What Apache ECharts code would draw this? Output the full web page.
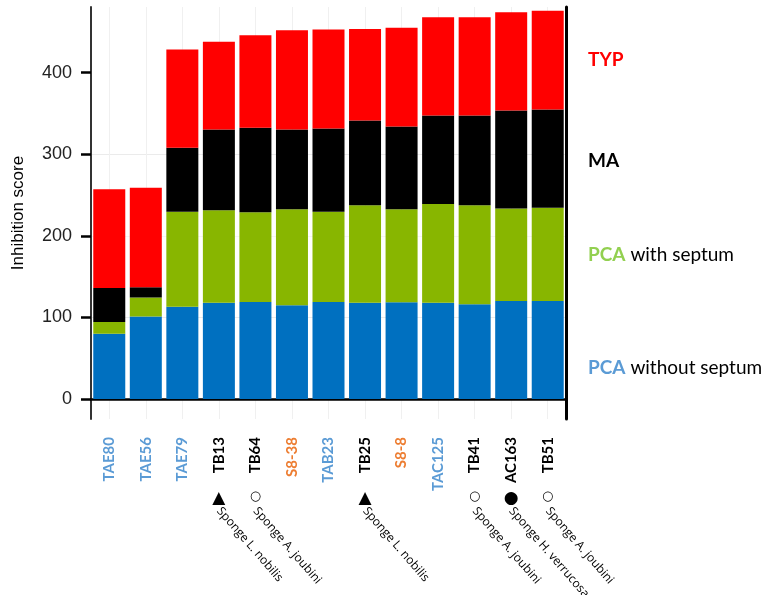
<!DOCTYPE html>
<html>
<head>
<meta charset="utf-8">
<script src="https://cdn.jsdelivr.net/npm/echarts@6/dist/echarts.min.js"></script>
<style>
  html, body { margin: 0; padding: 0; background: #fff; }
  #chart { width: 784px; height: 595px; }
</style>
</head>
<body>
<div id="chart"></div>
<script>
  // strains, left to right
  const categories = ['TAE80', 'TAE56', 'TAE79', 'TB13', 'TB64', 'S8-38', 'TAB23', 'TB25', 'S8-8', 'TAC125', 'TB41', 'AC163', 'TB51'];

  // stacked inhibition score components
  const pcaWithout = [80, 101, 113, 118, 119, 115, 119, 118, 118.5, 118, 116, 120, 120];
  const pcaWith = [14.5, 23.5, 116.5, 113.5, 110, 117.5, 110.5, 119.5, 114, 121, 121.5, 113.5, 114.5];
  const ma = [41.5, 12.5, 78.5, 99, 103.5, 98, 102, 104, 101.5, 108.5, 110, 120, 120.5];
  const typ = [121, 122, 120.5, 107.5, 113.5, 121.5, 121.5, 112, 121, 120.5, 120.5, 120.5, 121];

  // host annotation under some strains
  const hostMarker = ['', '', '', 'tri', 'open', '', '', 'tri', '', '', 'open', 'filled', 'open'];
  const hosts = ['', '', '', 'Sponge L. nobilis', 'Sponge A. joubini', '', '', 'Sponge L. nobilis', '', '', 'Sponge A. joubini', 'Sponge H. verrucosa', 'Sponge A. joubini'];

  const yTicks = [0, 100, 200, 300, 400];

  const labelColor = name => {
    if (name.startsWith('TA')) return '#5b9bd5';
    if (name.startsWith('S8')) return '#ed7d31';
    return '#000';
  };

  const markerGlyph = { tri: '▲', open: '○', filled: '●' };

  const chart = echarts.init(document.getElementById('chart'));

  const stackBar = (name, data, color) => ({
    name,
    type: 'bar',
    stack: 'score',
    barWidth: 32,
    data,
    itemStyle: { color },
    emphasis: { disabled: true }
  });

  const legendText = (top, text, rich) => ({
    type: 'text',
    left: 588,
    top,
    style: {
      text,
      font: '19px Lato',
      fill: '#000',
      rich
    }
  });

  chart.setOption({
    animation: false,
    grid: { left: 91, right: 218, top: 7, bottom: 176, outerBoundsMode: 'none' },
    xAxis: [
      {
        type: 'category',
        position: 'bottom',
        data: categories,
        axisLine: { lineStyle: { color: '#000', width: 2.5 } },
        axisTick: { alignWithLabel: true, length: 8, lineStyle: { color: '#000', width: 2.5 } },
        splitLine: { show: true, alignWithLabel: true, lineStyle: { color: '#f0f0f0', width: 1 } },
        axisLabel: {
          interval: 0,
          rotate: 90,
          margin: 18,
          fontFamily: 'Lato',
          fontWeight: 'bold',
          fontSize: 15,
          color: (value) => labelColor(value)
        }
      },
      {
        type: 'category',
        position: 'bottom',
        data: categories,
        axisLine: { show: false },
        axisTick: { show: false },
        axisLabel: {
          interval: 0,
          margin: 71,
          formatter: (v, i) => hostMarker[i] ? '{' + hostMarker[i] + '|' + markerGlyph[hostMarker[i]] + '}' : '',
          rich: {
            tri: { fontFamily: 'DejaVu Sans', fontSize: 17, color: '#000' },
            open: { fontFamily: 'DejaVu Sans', fontSize: 13, color: '#000' },
            filled: { fontFamily: 'DejaVu Sans', fontSize: 17, color: '#000' }
          }
        }
      },
      {
        type: 'category',
        position: 'bottom',
        data: categories,
        axisLine: { show: false },
        axisTick: { show: false },
        axisLabel: {
          interval: 0,
          rotate: -49,
          margin: 90,
          fontFamily: 'Open Sans',
          fontSize: 12,
          color: '#000',
          formatter: (v, i) => hosts[i]
        }
      }
    ],
    yAxis: [
      {
        type: 'value',
        min: -24.5,
        max: 480.5,
        splitNumber: 10,
        name: 'Inhibition score',
        nameLocation: 'middle',
        nameGap: 64,
        nameTextStyle: { fontFamily: 'Liberation Sans', fontSize: 17, color: '#000' },
        axisLine: { show: true, lineStyle: { color: '#333', width: 2 } },
        axisTick: { show: true, customValues: yTicks, length: 10, lineStyle: { color: '#000', width: 2.5 } },
        axisLabel: {
          customValues: yTicks,
          margin: 19,
          fontFamily: 'Liberation Sans',
          fontSize: 18,
          color: '#222'
        },
        splitLine: {
          show: true,
          showMinLine: false,
          showMaxLine: false,
          lineStyle: { color: ['#ebebeb', '#f5f5f5'], width: 1 }
        }
      },
      {
        type: 'value',
        position: 'right',
        min: -24.5,
        max: 480.5,
        axisLine: { show: true, lineStyle: { color: '#000', width: 3 } },
        axisTick: { show: false },
        axisLabel: { show: false },
        splitLine: { show: false }
      }
    ],
    series: [
      stackBar('PCA without septum', pcaWithout, '#0070c0'),
      stackBar('PCA with septum', pcaWith, '#88b600'),
      stackBar('MA', ma, '#000000'),
      stackBar('TYP', typ, '#ff0000')
    ],
    graphic: [
      legendText(50, '{r|TYP}', { r: { font: 'bold 19px Lato', fill: '#ff0000' } }),
      legendText(151, '{k|MA}', { k: { font: 'bold 19px Lato', fill: '#000' } }),
      legendText(245, '{g|PCA} with septum', { g: { font: 'bold 19px Lato', fill: '#92d050' } }),
      legendText(358, '{b|PCA} without septum', { b: { font: 'bold 19px Lato', fill: '#5b9bd5' } })
    ]
  });
</script>
</body>
</html>
